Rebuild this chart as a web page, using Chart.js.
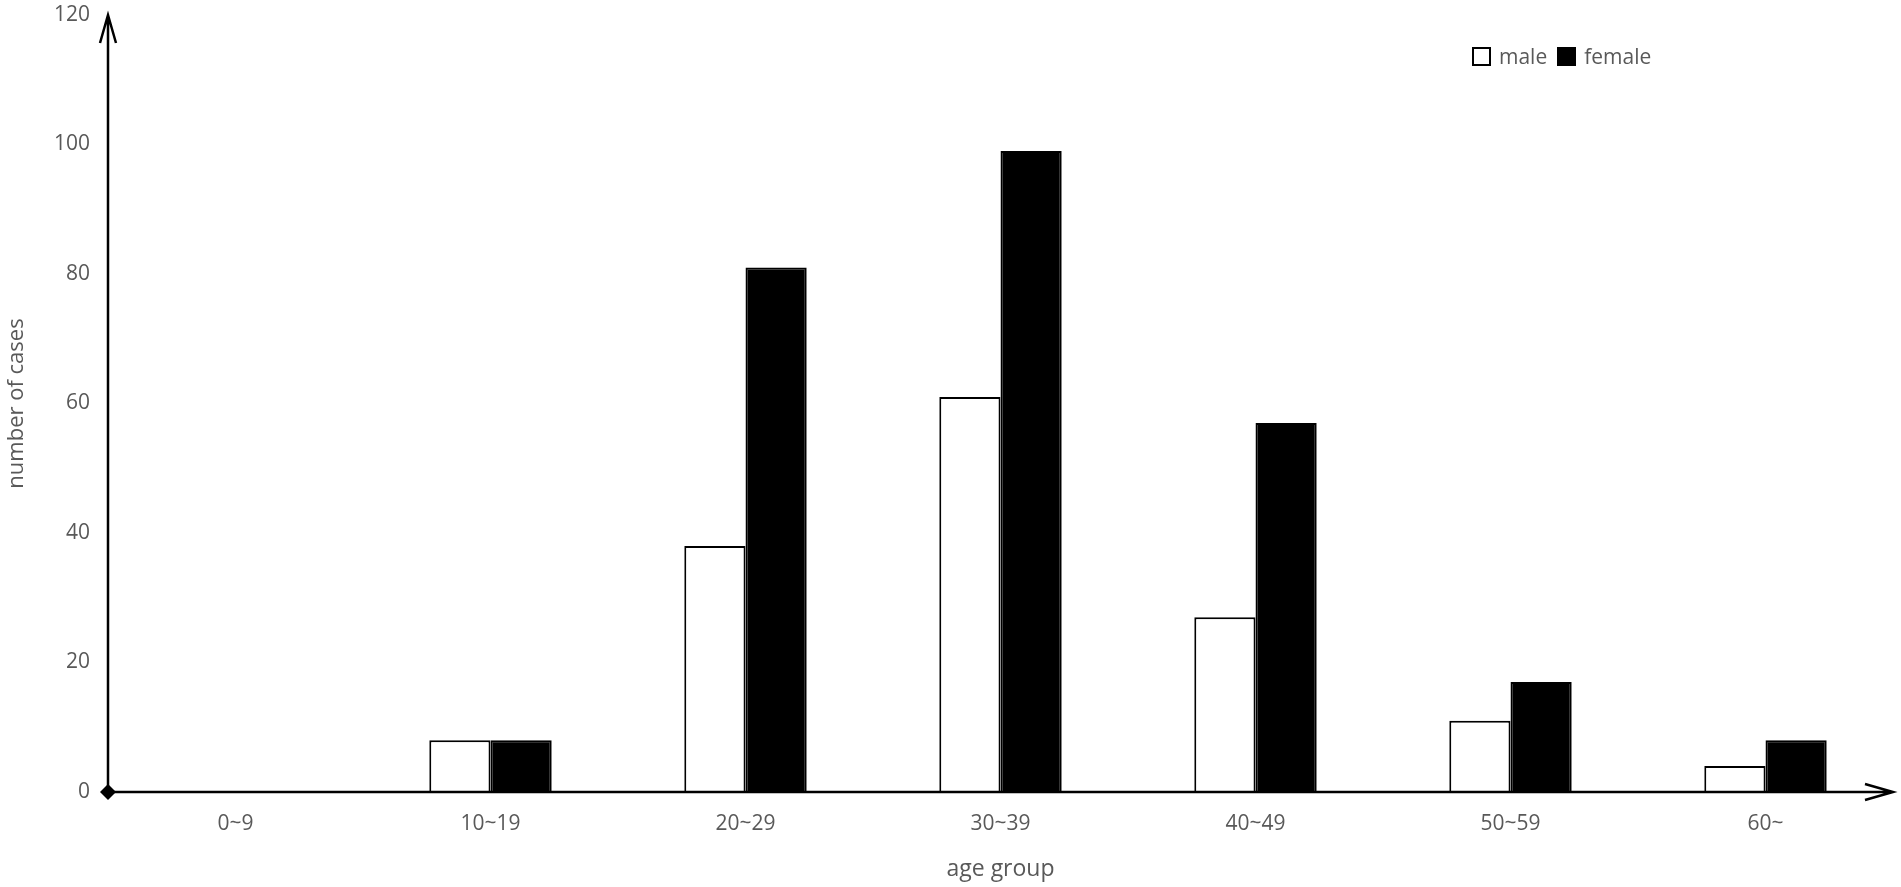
<!DOCTYPE html>
<html>
<head>
<meta charset="utf-8">
<script src="https://cdn.jsdelivr.net/npm/chart.js@4"></script>
<style>
  html, body { margin: 0; padding: 0; background: #fff; }
  #wrap { position: relative; width: 1901px; height: 887px; }
  #legend { position: absolute; left: 1472px; top: 42px; font-family: "Open Sans", sans-serif; font-size: 21px; color: #595959; display: flex; align-items: center; }
  #legend .box { display: inline-block; width: 15px; height: 15px; border: 2px solid #000; margin-right: 8px; }
  #legend .item { display: flex; align-items: center; margin-right: 10px; }
</style>
</head>
<body>
<div id="wrap">
  <canvas id="chart" width="1901" height="887"></canvas>
  <div id="legend">
    <span class="item"><span class="box" style="background:#fff"></span>male</span>
    <span class="item"><span class="box" style="background:#000"></span>female</span>
  </div>
</div>
<script>
const ageGroups = ['0~9', '10~19', '20~29', '30~39', '40~49', '50~59', '60~'];
const maleCases = [0, 8, 38, 61, 27, 11, 4];
const femaleCases = [0, 8, 81, 99, 57, 17, 8];
const yTicks = [0, 20, 40, 60, 80, 100, 120];

const textColor = '#595959';
const fontFamily = '"Open Sans", sans-serif';

// axes with arrowheads and a diamond at the origin
const arrowAxes = {
    id: 'arrowAxes',
    afterDatasetsDraw(chart) {
        const { ctx, scales: { x, y } } = chart;
        const x0 = x.left, y0 = y.getPixelForValue(0);
        const yTop = y.getPixelForValue(120), xEnd = x.right;
        ctx.save();
        ctx.strokeStyle = '#000';
        ctx.fillStyle = '#000';
        ctx.lineWidth = 2.5;
        ctx.beginPath();
        ctx.moveTo(x0, y0); ctx.lineTo(x0, yTop);
        ctx.moveTo(x0 - 8, yTop + 28); ctx.lineTo(x0, yTop); ctx.lineTo(x0 + 8, yTop + 28);
        ctx.moveTo(x0, y0); ctx.lineTo(xEnd, y0);
        ctx.moveTo(xEnd - 28, y0 - 8); ctx.lineTo(xEnd, y0); ctx.lineTo(xEnd - 28, y0 + 8);
        ctx.stroke();
        ctx.beginPath();
        ctx.moveTo(x0, y0 - 8); ctx.lineTo(x0 + 8, y0); ctx.lineTo(x0, y0 + 8); ctx.lineTo(x0 - 8, y0);
        ctx.closePath();
        ctx.fill();
        ctx.restore();
    }
};

new Chart(document.getElementById('chart'), {
    type: 'bar',
    data: {
        labels: ageGroups,
        datasets: [
            { label: 'male', data: maleCases, backgroundColor: '#fff', borderColor: '#000', borderWidth: 2 },
            { label: 'female', data: femaleCases, backgroundColor: '#000', borderColor: '#000', borderWidth: 2 }
        ]
    },
    options: {
        responsive: false, animation: false,
        layout: { autoPadding: false, padding: { left: 0, right: 8, top: 15, bottom: 0 } },
        datasets: { bar: { categoryPercentage: 0.48, barPercentage: 1 } },
        scales: {
            x: {
                grid: { display: false, drawTicks: false },
                border: { display: false },
                ticks: { color: textColor, font: { family: fontFamily, size: 21 }, padding: 19 },
                title: { display: true, text: 'age group', color: textColor, font: { family: fontFamily, size: 23 } },
                afterFit: s => { s.height = 95; }
            },
            y: {
                min: 0, max: 120,
                grid: { display: false, drawTicks: false },
                border: { display: false },
                afterBuildTicks: s => { s.ticks = yTicks.map(v => ({ value: v })); },
                ticks: { color: textColor, font: { family: fontFamily, size: 21 }, padding: 18 },
                title: { display: true, text: 'number of cases', color: textColor, font: { family: fontFamily, size: 22 } },
                // tick padding would otherwise push the plot top down
                afterFit: s => { s.width = 108; s.paddingTop = 0; s.paddingBottom = 0; }
            }
        },
        plugins: { legend: { display: false }, tooltip: { enabled: false } }
    },
    plugins: [arrowAxes]
});
</script>
</body>
</html>
